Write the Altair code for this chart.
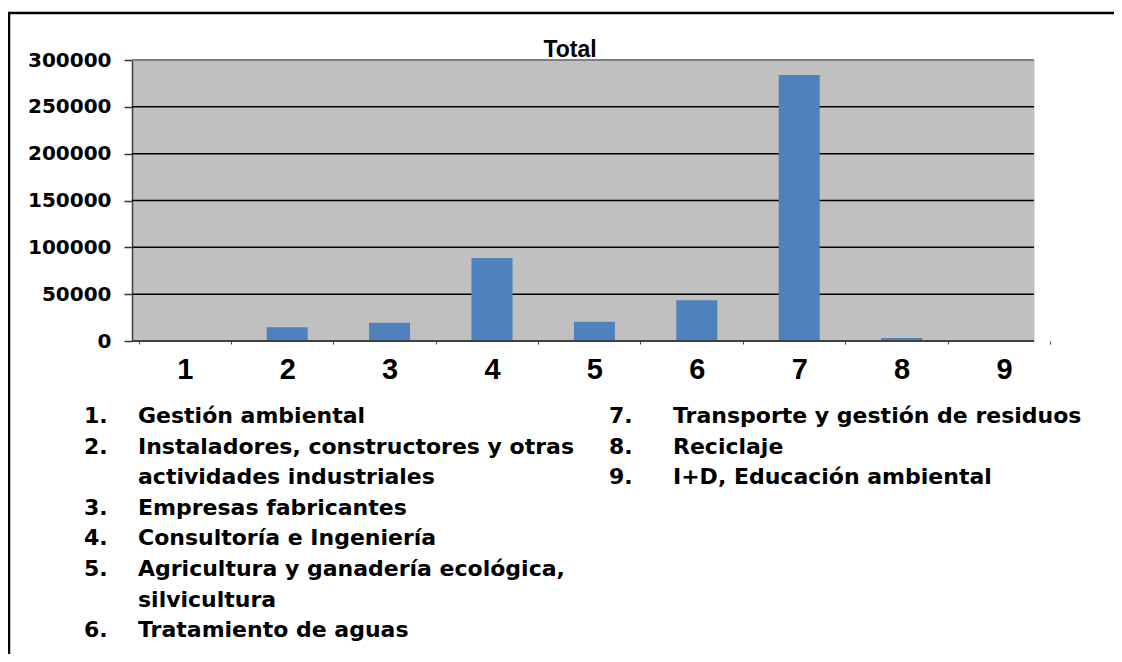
import altair as alt
import pandas as pd

# ---- data ----
categories = ["1", "2", "3", "4", "5", "6", "7", "8", "9"]
totals = [300, 14600, 19500, 88600, 20600, 43400, 284000, 3200, 400]
y_ticks = [0, 50000, 100000, 150000, 200000, 250000, 300000]
grid_values = [50000, 100000, 150000, 200000, 250000]
chart_title = "Total"

legend_numbers_left = ["1.", "2.", "3.", "4.", "5.", "6."]
legend_names_left = [
    "Gestión ambiental",
    "Instaladores, constructores y otras\nactividades industriales",
    "Empresas fabricantes",
    "Consultoría e Ingeniería",
    "Agricultura y ganadería ecológica,\nsilvicultura",
    "Tratamiento de aguas",
]
legend_numbers_right = ["7.", "8.", "9."]
legend_names_right = [
    "Transporte y gestión de residuos",
    "Reciclaje",
    "I+D, Educación ambiental",
]

# ---- layout ----
W, H = 902, 281
PAD_L, PAD_T, PAD_R, PAD_B = 124, 52, 80, 313
LINE_H = 30.6
LEG_Y0 = 356

df = pd.DataFrame({"cat": categories, "total": totals})
grid_df = pd.DataFrame({"total": grid_values})


def legend_rows(numbers, names, x_num, x_txt):
    rows = []
    i = 0
    for num, name in zip(numbers, names):
        for j, line in enumerate(name.split("\n")):
            y = LEG_Y0 + LINE_H * i
            if j == 0:
                rows.append({"x": x_num, "y": y, "t": num})
            rows.append({"x": x_txt, "y": y, "t": line})
            i += 1
    return rows


leg_df = pd.DataFrame(
    legend_rows(legend_numbers_left, legend_names_left, -48, 6)
    + legend_rows(legend_numbers_right, legend_names_right, 477, 541)
)

x_enc = alt.X(
    "cat:N",
    sort=categories,
    scale=alt.Scale(range=[1.6, 923.2]),
    axis=alt.Axis(
        title=None,
        labelAngle=0,
        labelFont="Liberation Sans",
        labelFontSize=29,
        labelFontWeight="bold",
        labelColor="black",
        labelPadding=11,
        tickSize=3,
        tickColor="#404040",
        tickBand="extent",
        domain=False,
    ),
)
y_scale = alt.Scale(domain=[0, 300000], nice=False)
y_axis = alt.Axis(
    title=None,
    values=y_ticks,
    grid=False,
    labelFont="DejaVu Sans",
    labelFontSize=20,
    labelFontWeight="bold",
    labelColor="black",
    labelPadding=13,
    tickSize=8,
    tickColor="#303030",
    tickWidth=1.5,
    domainColor="#404040",
    domainWidth=1.5,
    format="d",
)
y_enc = alt.Y("total:Q", scale=y_scale, axis=y_axis)

grid = alt.Chart(grid_df).mark_rule(color="black", strokeWidth=1.5).encode(
    y=y_enc,
    x=alt.value(0),
    x2=alt.value(W),
)

bars = alt.Chart(df).mark_bar(width=41, color="#4f81bd").encode(x=x_enc, y=y_enc)

one = pd.DataFrame({"a": [0]})
top_edge = alt.Chart(one).mark_rule(color="#808080", strokeWidth=2).encode(
    y=alt.value(0), x=alt.value(0), x2=alt.value(W)
)
x_domain = alt.Chart(one).mark_rule(color="#404040", strokeWidth=2).encode(
    y=alt.value(H), x=alt.value(0), x2=alt.value(W)
)
frame_top = alt.Chart(one).mark_rule(color="black", strokeWidth=2.5).encode(
    y=alt.value(-47), x=alt.value(-124), x2=alt.value(W + PAD_R)
)
frame_left = alt.Chart(one).mark_rule(color="black", strokeWidth=2.5).encode(
    x=alt.value(-123), y=alt.value(-48), y2=alt.value(H + PAD_B)
)

title = alt.Chart(pd.DataFrame({"t": [chart_title]})).mark_text(
    font="Liberation Sans", fontSize=23, fontWeight="bold", color="black",
    align="center", baseline="alphabetic"
).encode(text="t:N", x=alt.value(438), y=alt.value(-3))

legend = alt.Chart(leg_df).mark_text(
    font="DejaVu Sans", fontSize=22, fontWeight="bold", color="black",
    align="left", baseline="middle"
).encode(
    text="t:N",
    x=alt.X("x:Q", scale=None),
    y=alt.Y("y:Q", scale=None),
)

chart = alt.layer(
    grid, bars, top_edge, x_domain, frame_top, frame_left, title, legend
).properties(
    width=W,
    height=H,
    autosize=alt.AutoSizeParams(type="none"),
    padding={"left": PAD_L, "top": PAD_T, "right": PAD_R, "bottom": PAD_B},
    background="white",
).configure_view(fill="#c0c0c0", stroke="transparent")

chart.save("out.html", embed_options={"renderer": "svg", "actions": False})
